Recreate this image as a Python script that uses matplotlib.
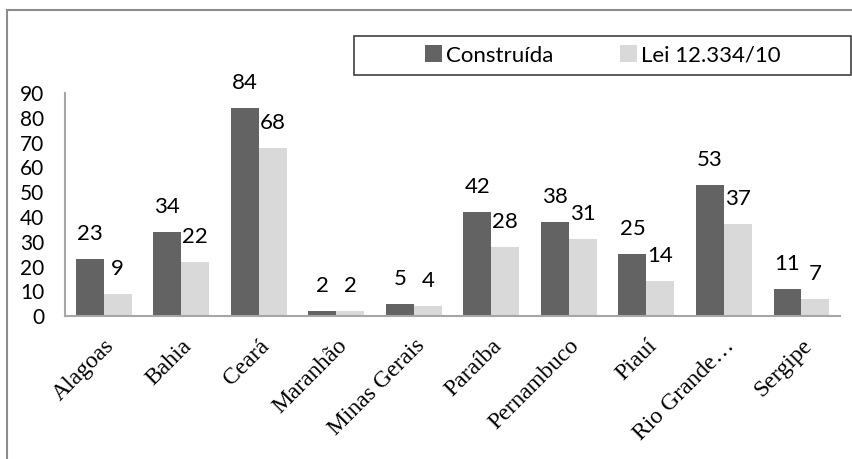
import numpy as np
import matplotlib
matplotlib.use("Agg")
import matplotlib.pyplot as plt
from matplotlib.patches import Rectangle

estados = ["Alagoas", "Bahia", "Ceará", "Maranhão", "Minas Gerais",
           "Paraíba", "Pernambuco", "Piauí", "Rio Grande…", "Sergipe"]
construida = [23, 34, 84, 2, 5, 42, 38, 25, 53, 11]
lei = [9, 22, 68, 2, 4, 28, 31, 14, 37, 7]

DARK = "#636363"
LIGHT = "#d9d9d9"
SANS = "Lato"
SERIF = "Liberation Serif"

fig = plt.figure(figsize=(8.53, 4.59), dpi=100)
ax = fig.add_axes([0.0762, 0.3115, 0.9088, 0.4855])

# outer chart frame (right/bottom edges run off the image)
fig.patches.append(Rectangle((7 / 853, -0.1), 1.2, 1 - 10 / 459 + 0.1,
                             transform=fig.transFigure, fill=False,
                             edgecolor="#8c8c8c", linewidth=1.5))
# legend box, drawn separately so the entries stay centred in it
leg_box = (354 / 853, 1 - 75 / 459, 497 / 853, 39 / 459)
fig.patches.append(Rectangle(leg_box[:2], leg_box[2], leg_box[3],
                             transform=fig.transFigure, fill=False,
                             edgecolor="#404040", linewidth=1.2))

x = np.arange(len(estados))
w = 0.36
b1 = ax.bar(x - w / 2, construida, w, color=DARK, label="Construída")
b2 = ax.bar(x + w / 2, lei, w, color=LIGHT, label="Lei 12.334/10")

for bars in (b1, b2):
    for r in bars:
        ax.annotate(f"{r.get_height():g}",
                    (r.get_x() + r.get_width() / 2, r.get_height()),
                    xytext=(0, 18), textcoords="offset points",
                    ha="center", va="center", fontsize=16,
                    family=SANS, annotation_clip=False)

ax.set_xlim(-0.5, len(estados) - 0.5)
ax.set_ylim(0, 90)
ax.set_yticks(range(0, 91, 10))
ax.tick_params(axis="y", length=0, pad=15, labelsize=15)
for t in ax.get_yticklabels():
    t.set_family(SANS)
ax.set_xticks(x)
ax.set_xticklabels(estados, rotation=45, ha="right", rotation_mode="anchor",
                   family=SERIF, fontsize=17)
ax.tick_params(axis="x", length=0, pad=14)

for s in ("top", "right"):
    ax.spines[s].set_visible(False)
for s in ("left", "bottom"):
    ax.spines[s].set_color("#a6a6a6")
    ax.spines[s].set_linewidth(1.5)

fig.legend(loc="center", bbox_to_anchor=leg_box, ncol=2, frameon=False,
           prop={"family": SANS, "size": 16},
           handlelength=0.8, handleheight=0.8, handletextpad=0.15,
           columnspacing=3.0, borderaxespad=0, borderpad=0)

fig.savefig("out.png", dpi=100)
